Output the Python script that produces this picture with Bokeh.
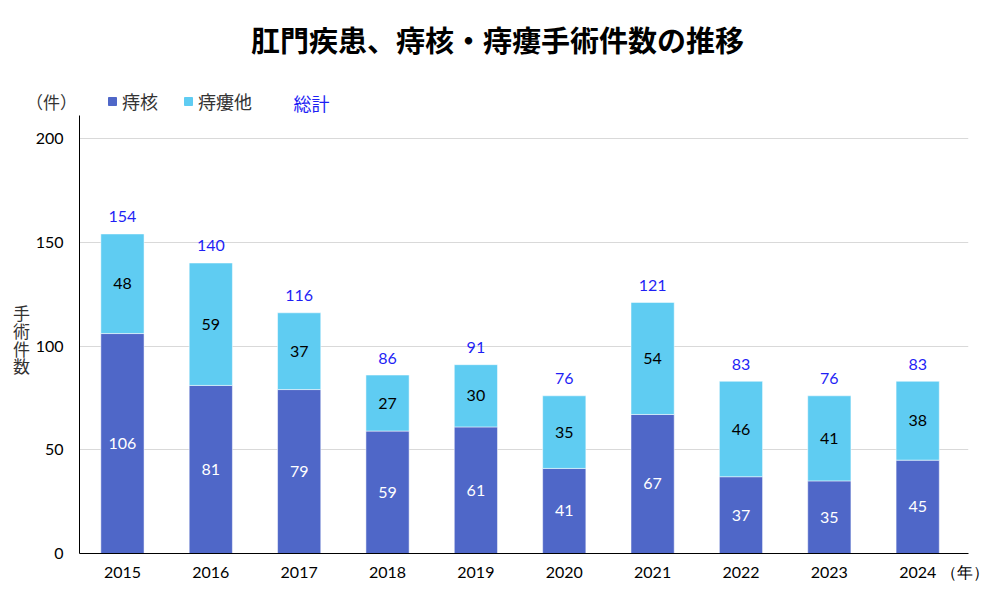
from bokeh.plotting import figure
from bokeh.models import ColumnDataSource, Legend, LegendItem, FixedTicker, Range1d
from bokeh.layouts import column, row
from bokeh.embed import file_html
from bokeh.resources import INLINE
from bokeh.core.properties import value

years = ["2015", "2016", "2017", "2018", "2019", "2020", "2021", "2022", "2023", "2024"]
hemorrhoid = [106, 81, 79, 59, 61, 41, 67, 37, 35, 45]
fistula_other = [48, 59, 37, 27, 30, 35, 54, 46, 41, 38]
totals = [154, 140, 116, 86, 91, 76, 121, 83, 76, 83]
y_ticks = [0, 50, 100, 150, 200]

title_text = "肛門疾患、痔核・痔瘻手術件数の推移"
series_names = ["痔核", "痔瘻他", "総計"]
y_unit = "（件）"
x_unit = "（年）"
y_title = "手術件数"

C_DARK = "#4F67C8"
C_LIGHT = "#5FCCF2"
C_TOTAL = "#1F1FF5"
JP = "Noto Sans CJK JP"
NUM = "Lato"

W = 992
HEAD = 115
LEFT = 32
nan = float("nan")


def bare(**kw):
    fig = figure(output_backend="svg", toolbar_location=None,
                 x_axis_location=None, y_axis_location=None, **kw)
    fig.grid.visible = False
    fig.outline_line_color = None
    fig.min_border = 0
    return fig


# ---------------- header: title, unit, legend ----------------
H = bare(width=W, height=HEAD, x_range=Range1d(0, W), y_range=Range1d(HEAD, 0))
H.text(x=[497], y=[38], text=[title_text], text_font=value(JP), text_font_size="29px",
       text_font_style="bold", text_align="center", text_baseline="middle", text_color="#000000")
H.text(x=[51], y=[101], text=[y_unit], text_font=value(JP), text_font_size="17px",
       text_align="center", text_baseline="middle", text_color="#333333")
H.text(x=[293], y=[102], text=[series_names[2]], text_font=value(JP), text_font_size="18px",
       text_align="left", text_baseline="middle", text_color=C_TOTAL)
# legend proxies (no visible marks in the header frame)
sw1 = H.vbar(x=[nan], top=[nan], width=1, color=C_DARK)
sw2 = H.vbar(x=[nan], top=[nan], width=1, color=C_LIGHT)
legend = Legend(items=[LegendItem(label=series_names[0], renderers=[sw1]),
                       LegendItem(label=series_names[1], renderers=[sw2])],
                orientation="horizontal", location=(107, 1),
                glyph_width=10, glyph_height=10, label_standoff=5, spacing=25,
                padding=0, margin=0, border_line_color=None, background_fill_alpha=0,
                label_text_font=JP, label_text_font_size="18px", label_text_color="#333333")
H.add_layout(legend, "center")

# ---------------- left strip: vertical axis title (stacked characters) ----------------
L = bare(width=LEFT, height=590 - HEAD, x_range=Range1d(0, LEFT), y_range=Range1d(590, HEAD))
chars = list(y_title)
L.text(x=[21] * len(chars), y=[329 + 19.2 * i for i in range(len(chars))], text=chars,
       text_font=value(JP), text_font_size="17px",
       text_align="center", text_baseline="middle", text_color="#333333")

# ---------------- main chart ----------------
xs = list(range(len(years)))
src = ColumnDataSource(dict(
    x=xs,
    core=hemorrhoid,
    other=fistula_other,
    core_mid=[v / 2 for v in hemorrhoid],
    other_mid=[a + b / 2 for a, b in zip(hemorrhoid, fistula_other)],
    total_pos=[t + 8.2 for t in totals],
    core_txt=[str(v) for v in hemorrhoid],
    other_txt=[str(v) for v in fistula_other],
    total_txt=[str(v) for v in totals],
))

x_start = -0.486
x_end = 9.575
unit_tick = 9.541
y_top = (553 - HEAD) / 2.075
B = figure(width=W - LEFT, height=590 - HEAD, x_range=Range1d(x_start, x_end), y_range=Range1d(0, y_top),
           output_backend="svg", toolbar_location=None,
           min_border_left=77 - LEFT, min_border_right=24, min_border_top=0, min_border_bottom=37)
B.outline_line_color = None
B.xgrid.grid_line_color = None
B.ygrid.grid_line_color = "#D9D9D9"
B.ygrid.grid_line_width = 1

B.yaxis.ticker = FixedTicker(ticks=y_ticks)
B.xaxis.ticker = FixedTicker(ticks=xs + [unit_tick])
overrides = {i: y for i, y in zip(xs, years)}
overrides[unit_tick] = x_unit
B.xaxis.major_label_overrides = overrides
for ax in (B.xaxis[0], B.yaxis[0]):
    ax.major_tick_line_color = None
    ax.minor_tick_line_color = None
    ax.major_tick_out = 0
    ax.major_tick_in = 0
    ax.axis_line_color = "black"
    ax.axis_line_width = 1
    ax.major_label_text_font = NUM
    ax.major_label_text_font_size = "16px"
    ax.major_label_text_color = "#000000"
B.yaxis.major_label_standoff = 16
B.xaxis.major_label_standoff = 8

B.vbar_stack(["core", "other"], x="x", width=0.489, color=[C_DARK, C_LIGHT],
             line_color="white", line_alpha=0.5, line_width=1, source=src)

B.text(x="x", y="core_mid", text="core_txt", source=src, text_align="center",
       text_baseline="middle", text_color="white", text_font=value(NUM), text_font_size="16px")
B.text(x="x", y="other_mid", text="other_txt", source=src, text_align="center",
       text_baseline="middle", text_color="black", text_font=value(NUM), text_font_size="16px")
B.text(x="x", y="total_pos", text="total_txt", source=src, text_align="center",
       text_baseline="middle", text_color=C_TOTAL, text_font=value(NUM), text_font_size="16px")

page = column(H, row(L, B, spacing=0), spacing=0)
open("out.html", "w").write(file_html(page, INLINE))
